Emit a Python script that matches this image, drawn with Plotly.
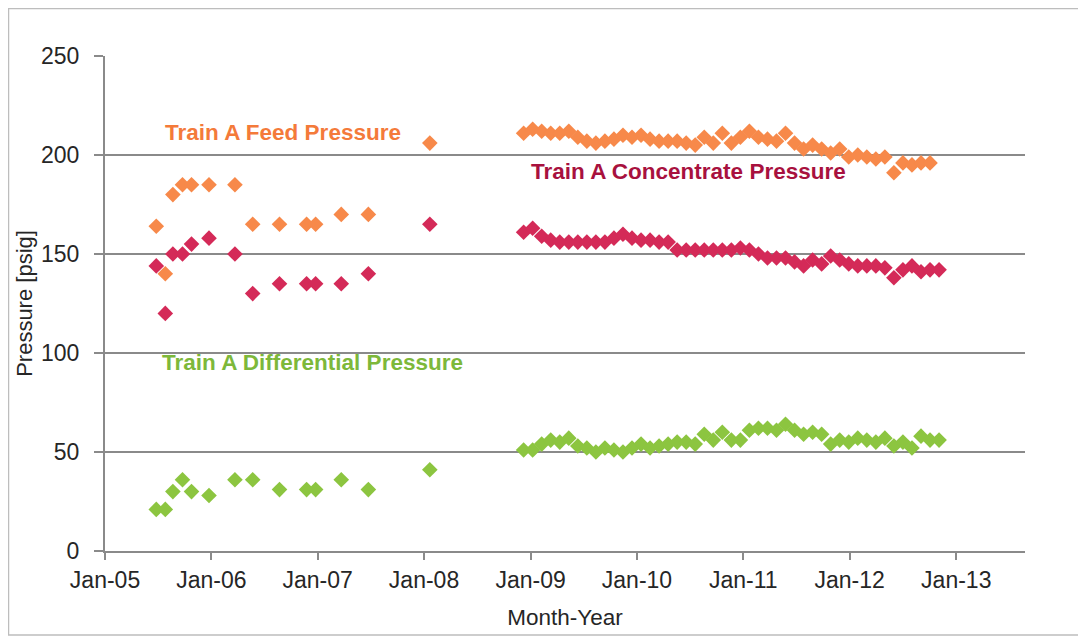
import plotly.graph_objects as go
import pandas as pd

# ---- data ----
early_dates = ["2005-06-26", "2005-07-27", "2005-08-22", "2005-09-24", "2005-10-25",
               "2005-12-24", "2006-03-23", "2006-05-23", "2006-08-23", "2006-11-24",
               "2006-12-25", "2007-03-23", "2007-06-24", "2008-01-21"]
feed_early = [164, 140, 180, 185, 185, 185, 185, 165, 165, 165, 165, 170, 170, 206]
conc_early = [144, 120, 150, 150, 155, 158, 150, 130, 135, 135, 135, 135, 140, 165]
diff_early = [21, 21, 30, 36, 30, 28, 36, 36, 31, 31, 31, 36, 31, 41]

monthly_dates = [d.strftime("%Y-%m-%d") for d in pd.date_range("2008-12-08", periods=47, freq="31D")]
feed_monthly = [211, 213, 212, 211, 211, 212, 209, 207, 206, 207, 208, 210, 209, 210, 208, 207,
                207, 207, 206, 205, 209, 206, 211, 206, 209, 212, 209, 208, 207, 211, 206, 203,
                205, 203, 201, 203, 199, 200, 199, 198, 199, 191, 196, 195, 196, 196, None]
conc_monthly = [161, 163, 159, 157, 156, 156, 156, 156, 156, 156, 158, 160, 158, 157, 157, 156,
                156, 152, 152, 152, 152, 152, 152, 152, 153, 152, 150, 148, 148, 148, 146, 144,
                147, 145, 149, 147, 145, 144, 144, 144, 143, 138, 142, 144, 141, 142, 142]
diff_monthly = [51, 51, 54, 56, 55, 57, 53, 52, 50, 52, 51, 50, 52, 54, 52, 53,
                54, 55, 55, 54, 59, 56, 60, 56, 56, 61, 62, 62, 61, 64, 61, 59,
                60, 59, 54, 56, 55, 57, 56, 55, 57, 53, 55, 52, 58, 56, 56]

dates = early_dates + monthly_dates
feed = feed_early + feed_monthly
conc = conc_early + conc_monthly
diff = diff_early + diff_monthly

tick_vals = ["2005-01-01", "2006-01-01", "2007-01-01", "2008-01-01", "2009-01-01",
             "2010-01-01", "2011-01-01", "2012-01-01", "2013-01-01"]
tick_text = ["Jan-05", "Jan-06", "Jan-07", "Jan-08", "Jan-09", "Jan-10", "Jan-11", "Jan-12", "Jan-13"]
y_ticks = [0, 50, 100, 150, 200, 250]

FEED_C = "#F7894A"
CONC_C = "#D42A58"
DIFF_C = "#8CC540"
TXT_C = "#262626"
AX_C = "#8a8a8a"

fig = go.Figure()
for name, ys, col in [("Train A Feed Pressure", feed, FEED_C),
                      ("Train A Concentrate Pressure", conc, CONC_C),
                      ("Train A Differential Pressure", diff, DIFF_C)]:
    fig.add_trace(go.Scatter(x=dates, y=ys, mode="markers", name=name,
                             marker=dict(symbol="diamond", size=12, color=col,
                                         line=dict(width=0))))

font_family = "Liberation Sans, Arial, sans-serif"
fig.update_layout(
    width=1086, height=636,
    margin=dict(l=97, r=69, t=48, b=93),
    paper_bgcolor="white", plot_bgcolor="white",
    showlegend=False,
    font=dict(family=font_family, size=23, color=TXT_C),
    xaxis=dict(
        type="date", range=["2005-01-01", "2013-08-25"],
        tickvals=tick_vals, ticktext=tick_text,
        showgrid=False, showline=True, linecolor=AX_C, linewidth=2,
        ticks="outside", ticklen=7, tickcolor=AX_C, tickwidth=2,
        tickfont=dict(size=23, color=TXT_C), ticklabelstandoff=0,
        title=dict(text="Month-Year", font=dict(size=22.5, color=TXT_C), standoff=18),
        zeroline=False,
    ),
    yaxis=dict(
        range=[0, 250], tickvals=y_ticks,
        showgrid=True, gridcolor=AX_C, gridwidth=1.5,
        showline=True, linecolor=AX_C, linewidth=2,
        ticks="outside", ticklen=9, tickcolor=AX_C, tickwidth=2,
        tickfont=dict(size=23, color=TXT_C), ticklabelstandoff=10,
        title=dict(text="Pressure [psig]", font=dict(size=22, color=TXT_C), standoff=2),
        zeroline=False,
    ),
)

fig.add_annotation(xref="paper", yref="paper", x=0.063, y=0.846, xanchor="left", yanchor="middle",
                   text="<b>Train A Feed Pressure</b>", showarrow=False,
                   font=dict(size=22.5, color="#F47A3A", family=font_family))
fig.add_annotation(xref="paper", yref="paper", x=0.461, y=0.766, xanchor="left", yanchor="middle",
                   text="<b>Train A Concentrate Pressure</b>", showarrow=False,
                   font=dict(size=22.5, color="#A8113E", family=font_family))
fig.add_annotation(xref="paper", yref="paper", x=0.06, y=0.38, xanchor="left", yanchor="middle",
                   text="<b>Train A Differential Pressure</b>", showarrow=False,
                   font=dict(size=22.5, color="#7DB83A", family=font_family))

# outer chart frame
fig.add_shape(type="rect", xref="paper", yref="paper",
              x0=-0.1049, x1=1.073, y0=-0.1697, y1=1.096,
              line=dict(color="#bdbdbd", width=1.5), layer="below")

fig.write_html("out.html")
